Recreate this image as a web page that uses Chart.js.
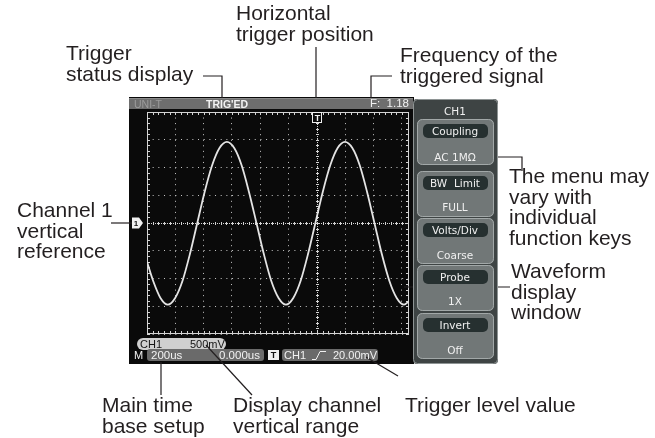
<!DOCTYPE html>
<html><head><meta charset="utf-8">
<script src="https://cdn.jsdelivr.net/npm/chart.js"></script>
<style>
html,body{margin:0;padding:0;background:#fff;}
#wrap{position:relative;width:655px;height:438px;overflow:hidden;}
canvas{position:absolute;left:0;top:0;}
.a{position:absolute;font-family:"Liberation Sans",Arial,sans-serif;font-size:21px;line-height:20.5px;color:#231f20;white-space:pre;}
.s{position:absolute;font-family:"Liberation Sans",Arial,sans-serif;font-size:10px;line-height:12px;color:#f2f2f2;white-space:pre;}
.m{position:absolute;left:417px;width:76px;text-align:center;font-family:"DejaVu Sans",sans-serif;font-size:10.5px;line-height:12px;color:#f0f0f0;white-space:pre;}
</style></head>
<body><div id="wrap"><canvas id="c" width="655" height="438"></canvas>

<div class="a" style="left:66px;top:43px;">Trigger
status display</div>
<div class="a" style="left:236px;top:3px;">Horizontal
trigger position</div>
<div class="a" style="left:400px;top:45px;">Frequency of the
triggered signal</div>
<div class="a" style="left:17px;top:200px;">Channel 1
vertical
reference</div>
<div class="a" style="left:509px;top:166px;">The menu may
vary with
individual
function keys</div>
<div class="a" style="left:511px;top:261px;">Waveform
display
window</div>
<div class="a" style="left:102px;top:395px;">Main time
base setup</div>
<div class="a" style="left:233px;top:395px;">Display channel
vertical range</div>
<div class="a" style="left:405px;top:395px;">Trigger level value</div>

<div class="s" style="left:134px;top:97.5px;color:#9c9c9c;font-size:10.5px;">UNI-T</div>
<div class="s" style="left:206px;top:97.5px;font-size:10.5px;font-weight:bold;">TRIG'ED</div>
<div class="s" style="left:370px;top:97px;font-size:11.5px;">F:  1.18</div>
<div class="s" style="left:313px;top:112px;width:9px;text-align:center;font-size:9px;font-weight:bold;">T</div>
<div class="s" style="left:132px;top:217.5px;width:8px;text-align:center;font-size:8px;font-weight:bold;color:#111;">1</div>

<div class="s" style="left:140px;top:338px;font-size:11px;color:#151515;">CH1</div>
<div class="s" style="left:190px;top:338px;font-size:11px;color:#151515;">500mV</div>
<div class="s" style="left:134px;top:349px;font-size:11px;">M</div>
<div class="s" style="left:151px;top:349px;font-size:11.5px;">200us</div>
<div class="s" style="left:219px;top:349px;font-size:11.5px;">0.000us</div>
<div class="s" style="left:268px;top:349px;width:11px;text-align:center;font-size:9px;font-weight:bold;color:#111;">T</div>
<div class="s" style="left:284px;top:349px;font-size:11px;">CH1</div>
<div class="s" style="left:333px;top:349px;font-size:11px;">20.00mV</div>

<div class="m" style="top:105px;">CH1</div>
<div class="m" style="top:125px;">Coupling</div>
<div class="m" style="top:151px;">AC 1MΩ</div>
<div class="m" style="top:177px;">BW  Limit</div>
<div class="m" style="top:201px;">FULL</div>
<div class="m" style="top:224px;">Volts/Div</div>
<div class="m" style="top:249px;">Coarse</div>
<div class="m" style="top:271px;">Probe</div>
<div class="m" style="top:295px;">1X</div>
<div class="m" style="top:319px;">Invert</div>
<div class="m" style="top:344px;">Off</div>
</div>

<script>
// ---- data (time in microseconds, CH1 voltage in volts) ----
const timeUs = [-1200,-1157,-1105,-1053,-1001,-949,-897,-845,-793,-740,-688,-636,-584,-532,-480,-427,-375,-323,-271,-219,-167,-115,-63,-11,41,94,146,198,250,302,354,406,458,511,563,615,650];
const voltsV = [-0.70,-1.04,-1.35,-1.47,-1.35,-1.04,-0.56,0.00,0.56,1.04,1.35,1.46,1.35,1.04,0.56,0.00,-0.56,-1.04,-1.35,-1.47,-1.35,-1.04,-0.56,0.00,0.56,1.04,1.35,1.46,1.35,1.04,0.56,0.00,-0.56,-1.04,-1.35,-1.47,-1.41];
// grid divisions: 200 us/div horizontally, 500 mV/div vertically
const xGridUs = [-1200,-1000,-800,-600,-400,-200,0,200,400,600];
const yGridV = [-2,-1.5,-1,-0.5,0,0.5,1,1.5,2];
const xRange = [-1200, 650];
const yRange = [-2, 2];

function rr(ctx,x,y,w,h,r){ctx.beginPath();ctx.roundRect(x,y,w,h,r);}
function line(ctx,pts,color,w){ctx.save();ctx.strokeStyle=color;ctx.lineWidth=w;ctx.beginPath();ctx.moveTo(pts[0][0],pts[0][1]);for(let i=1;i<pts.length;i++)ctx.lineTo(pts[i][0],pts[i][1]);ctx.stroke();ctx.restore();}

const scopePlugin = {
  id:'scope',
  beforeDraw(chart){
    const ctx=chart.ctx; ctx.save();
    ctx.fillStyle='#0a0a0a'; ctx.fillRect(129,97,285,267);
    ctx.fillStyle='#6e6e6e'; ctx.fillRect(129,98,284,11);
    ctx.fillStyle='#8a8a8a'; ctx.fillRect(129,98,284,1);
    ctx.fillStyle='#d0d0d0'; rr(ctx,137,338,89,12,6); ctx.fill();
    ctx.fillStyle='#6a6a6a'; rr(ctx,147,349,117,12,3); ctx.fill();
    ctx.fillStyle='#efefef'; ctx.fillRect(268,350,11,10);
    ctx.fillStyle='#6a6a6a'; rr(ctx,282,349,96,12,3); ctx.fill();
    ctx.restore();
    line(ctx,[[312,359.5],[316,359.5],[320,351.5],[326,351.5]],'#f0f0f0',1);
  },
  beforeDatasetsDraw(chart){
    const ctx=chart.ctx, a=chart.chartArea, xs=chart.scales.x, ys=chart.scales.y;
    const dx=(xs.getPixelForValue(200)-xs.getPixelForValue(0))/5;
    const dy=(ys.getPixelForValue(0)-ys.getPixelForValue(0.5))/5;
    ctx.save();
    ctx.strokeStyle='#d4d4d4'; ctx.lineWidth=1;
    ctx.strokeRect(Math.round(a.left)+0.5,Math.round(a.top)+0.5,Math.round(a.right-a.left)-1,Math.round(a.bottom-a.top)-1);
    ctx.beginPath();
    for(let x=a.left;x<=a.right+0.1;x+=dx){const px=Math.round(x)+0.5;ctx.moveTo(px,a.top);ctx.lineTo(px,a.top+3);ctx.moveTo(px,a.bottom);ctx.lineTo(px,a.bottom-3);}
    for(let y=a.top;y<=a.bottom+0.1;y+=dy){const py=Math.round(y)+0.5;ctx.moveTo(a.left,py);ctx.lineTo(a.left+3,py);ctx.moveTo(a.right,py);ctx.lineTo(a.right-3,py);}
    ctx.stroke();
    const x0=Math.round(xs.getPixelForValue(0))+0.5, y0=Math.round(ys.getPixelForValue(0))+0.5;
    ctx.setLineDash([1,1]);
    ctx.beginPath(); ctx.moveTo(a.left,y0); ctx.lineTo(a.right,y0); ctx.moveTo(x0,a.top); ctx.lineTo(x0,a.bottom); ctx.stroke();
    ctx.setLineDash([]);
    ctx.beginPath();
    for(let x=a.left;x<=a.right;x+=dx){const px=Math.round(x)+0.5;ctx.moveTo(px,y0-1.5);ctx.lineTo(px,y0+1.5);}
    for(let y=a.top;y<=a.bottom;y+=dy){const py=Math.round(y)+0.5;ctx.moveTo(x0-1.5,py);ctx.lineTo(x0+1.5,py);}
    ctx.stroke();
    ctx.restore();
  },
  afterDraw(chart){
    const ctx=chart.ctx, xs=chart.scales.x, ys=chart.scales.y;
    const x0=xs.getPixelForValue(0), y0=ys.getPixelForValue(0);
    ctx.save();
    ctx.fillStyle='#0a0a0a'; ctx.fillRect(x0-4.5,112,9,11);
    ctx.strokeStyle='#eeeeee'; ctx.lineWidth=1; ctx.strokeRect(Math.round(x0)-4.5,112.5,9,10);
    ctx.fillStyle='#f0f0f0'; ctx.beginPath();
    ctx.moveTo(132,y0-5.5); ctx.lineTo(139,y0-5.5); ctx.lineTo(143,y0); ctx.lineTo(139,y0+5.5); ctx.lineTo(132,y0+5.5); ctx.closePath(); ctx.fill();
    ctx.restore();
    const k='#231f20', w=1.2;
    line(ctx,[[203,76],[222,76],[222,98]],k,w);
    line(ctx,[[316,47],[316,98]],k,w);
    line(ctx,[[371,98],[371,76],[392,76]],k,w);
    line(ctx,[[111,223],[132,223]],k,w);
    line(ctx,[[404,287],[510,287]],k,w);
    line(ctx,[[161,362],[161,395]],k,w);
    line(ctx,[[206,345],[252,395]],k,w);
    line(ctx,[[366,357],[398,376]],k,w);
    line(ctx,[[495,157],[522,157],[522,171]],k,w);
    ctx.save();
    ctx.fillStyle='#3e4444'; rr(ctx,413,99,85,265,4); ctx.fill();
    ctx.strokeStyle='#8e9494'; ctx.lineWidth=1; rr(ctx,413.5,99.5,84,264,4); ctx.stroke();
    const pills=[131,183,230,277,325];
    pills.forEach(c=>{
      ctx.fillStyle='#717777'; rr(ctx,417,c-12,77,46,5); ctx.fill();
      ctx.strokeStyle='#a2a8a8'; rr(ctx,417.5,c-11.5,76,45,5); ctx.stroke();
      ctx.fillStyle='#263030'; rr(ctx,423,c-7,65,14,5); ctx.fill();
    });
    ctx.restore();
  }
};

new Chart(document.getElementById('c'), {
  type:'line',
  data:{datasets:[{
    data: timeUs.map((t,i)=>({x:t,y:voltsV[i]})),
    borderColor:'#e4e4e4', borderWidth:1.8, pointRadius:0,
    cubicInterpolationMode:'monotone', fill:false
  }]},
  options:{
    responsive:false, animation:false, devicePixelRatio:1,
    layout:{padding:{left:147,top:112,right:246,bottom:104}},
    plugins:{legend:{display:false},tooltip:{enabled:false}},
    scales:{
      x:{type:'linear',min:xRange[0],max:xRange[1],
        afterBuildTicks:s=>{s.ticks=xGridUs.map(v=>({value:v}));},
        ticks:{display:false},
        grid:{color:c=>c.tick&&c.tick.value===0?'rgba(0,0,0,0)':'#c8c8c8',lineWidth:1,drawTicks:false},
        border:{display:false,dash:[1,4.55]}},
      y:{type:'linear',min:yRange[0],max:yRange[1],
        afterBuildTicks:s=>{s.ticks=yGridV.map(v=>({value:v}));},
        ticks:{display:false},
        grid:{color:c=>c.tick&&c.tick.value===0?'rgba(0,0,0,0)':'#c8c8c8',lineWidth:1,drawTicks:false},
        border:{display:false,dash:[1,4.67]}}
    }
  },
  plugins:[scopePlugin]
});
</script>
</body></html>
